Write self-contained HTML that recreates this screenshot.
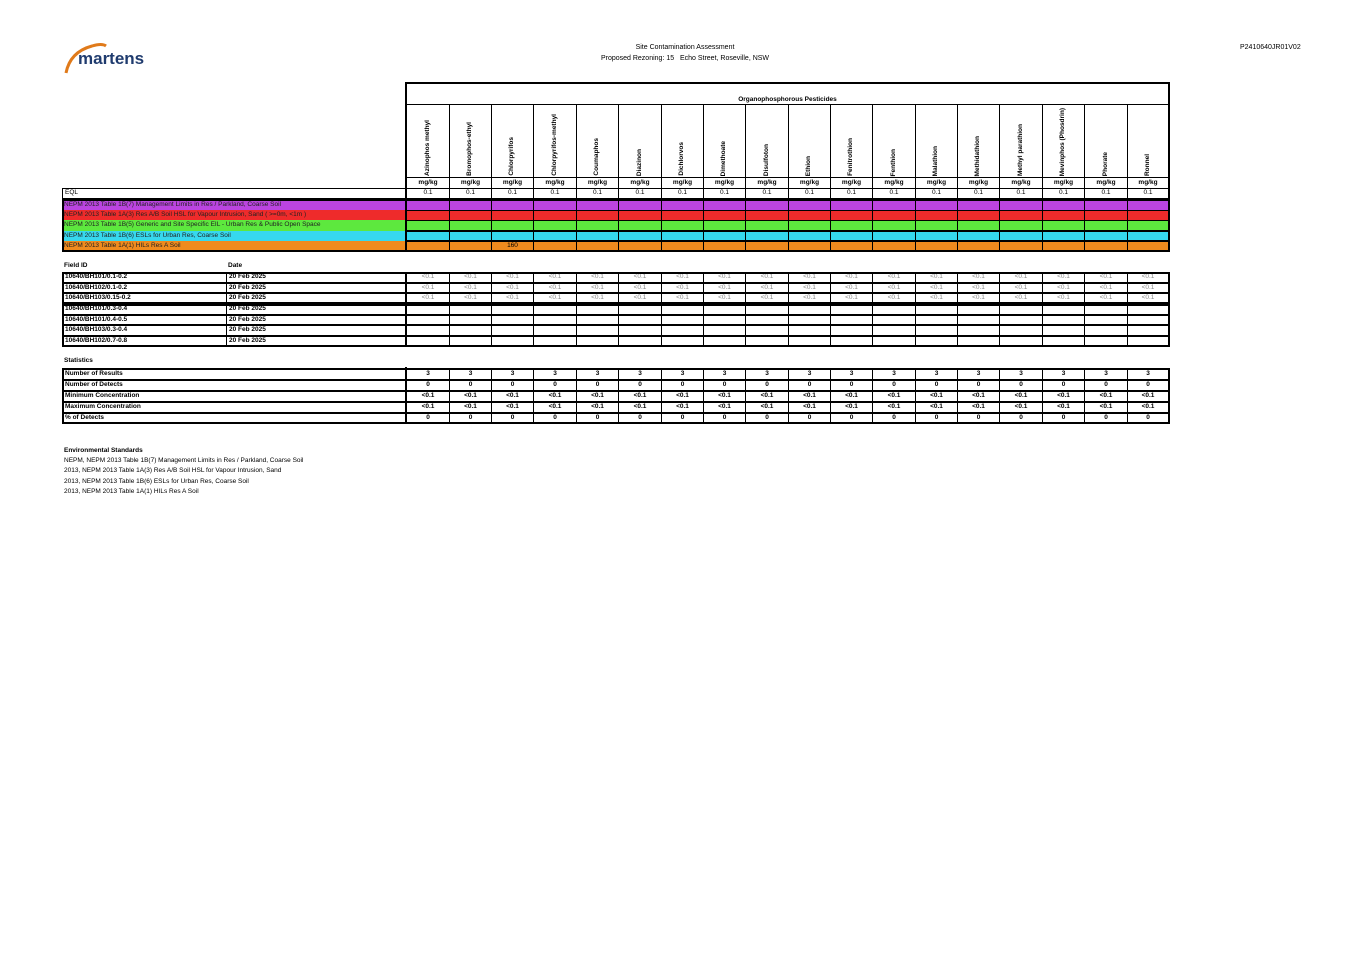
<!DOCTYPE html>
<html><head><meta charset="utf-8"><style>
body{margin:0;width:1367px;height:966px;background:#fff;position:relative;overflow:hidden;font-family:"Liberation Sans",sans-serif;}
.a{position:absolute;box-sizing:border-box;font-size:6.5px;line-height:1;white-space:nowrap;}
.c{display:flex;align-items:center;justify-content:center;}
.l{display:flex;align-items:center;padding-left:2px;}
.b{font-weight:bold;}
.v{writing-mode:vertical-rl;transform:rotate(180deg);font-weight:bold;font-size:6.5px;}
</style></head><body>
<div class="a" style="left:62px;top:40px;width:100px;height:36px">
<svg width="100" height="36"><path d="M4 33 Q8 12 30 6 Q40 3 44 6" stroke="#e07a1a" stroke-width="3" fill="none"/>
<text x="16" y="24" font-family="Liberation Sans" font-weight="bold" font-size="17" fill="#1f3b6e">martens</text></svg></div>
<div class="a" style="left:560px;top:42px;width:250px;text-align:center;font-size:7px;line-height:11px">Site Contamination Assessment<br>Proposed Rezoning: 15&nbsp;&nbsp;&nbsp;Echo Street, Roseville, NSW</div>
<div class="a" style="left:1240px;top:44px;font-size:7px">P2410640JR01V02</div>
<div id="g"></div>
<script>
var X=[406,449,491,533,576,618,661,703,745,788,830,872,915,957,999,1042,1084,1127,1168];
var N=["Azinophos methyl","Bromophos-ethyl","Chlorpyrifos","Chlorpyrifos-methyl","Coumaphos","Diazinon","Dichlorvos","Dimethoate","Disulfoton","Ethion","Fenitrothion","Fenthion","Malathion","Methidathion","Methyl parathion","Mevinphos (Phosdrin)","Phorate","Ronnel"];
var h="";
function d(x,y,w,ht,cls,st,t){h+='<div class="a '+cls+'" style="left:'+x+'px;top:'+y+'px;width:'+w+'px;height:'+ht+'px;'+st+'">'+t+'</div>';}
d(405,82,765,170,"","border:2px solid #000","");
d(405,82,765,23,"c b","border-bottom:1px solid #000;align-items:flex-end;padding-bottom:1px","Organophosphorous Pesticides");
for(var i=0;i<18;i++){var x=X[i],w=X[i+1]-X[i];
 d(x,104,w+1,74,"","border-left:1px solid #000;border-right:1px solid #000;display:flex;align-items:flex-end;justify-content:center;padding-bottom:2px",'<span class="v">'+N[i]+'</span>');
 d(x,177,w+1,12,"c b","border:1px solid #000;border-top:1.5px solid #000","mg/kg");
 d(x,188,w+1,12,"c","border:1px solid #000;border-bottom:2px solid #000","0.1");
}
d(62,188,344,12,"l","border:1px solid #000;border-bottom:2px solid #000","EQL");
var C=["#bb44e0","#ee2b2b","#5de83e","#36d8ee","#ef8b1e"];
var L=["NEPM 2013 Table 1B(7) Management Limits in Res / Parkland, Coarse Soil","NEPM 2013 Table 1A(3) Res A/B Soil HSL for Vapour Intrusion, Sand ( >=0m, &lt;1m )","NEPM 2013 Table 1B(5) Generic and Site Specific EIL - Urban Res &amp; Public Open Space","NEPM 2013 Table 1B(6) ESLs for Urban Res, Coarse Soil","NEPM 2013 Table 1A(1) HILs Res A Soil"];
for(var r=0;r<5;r++){var y=200+r*10.2;
 d(62,y,344,10.5,"l","background:"+C[r]+";color:#222",L[r]);
 for(var i=0;i<18;i++)d(X[i],y,X[i+1]-X[i]+1,10.5,"c","background:"+C[r]+";border:1px solid #000",(r==4&&i==2)?"160":"");
}
d(405,199,765,53,"","border:2px solid #000","");
d(62,199,345,53,"","border:2px solid #000;border-right:none","");
d(64,263,100,8,"b","","Field ID");d(228,263,60,8,"b","","Date");
var S=["10640/BH101/0.1-0.2","10640/BH102/0.1-0.2","10640/BH103/0.15-0.2","10640/BH101/0.3-0.4","10640/BH101/0.4-0.5","10640/BH103/0.3-0.4","10640/BH102/0.7-0.8"];
var Y=[272,282.5,293,304,314.5,325,335.5];
for(var r=0;r<7;r++){var y=Y[r];
 d(62,y,165,10.5,"l b","border:1px solid #000",S[r]);
 d(226,y,180,10.5,"l b","border:1px solid #000","20 Feb 2025");
 for(var i=0;i<18;i++)d(X[i],y,X[i+1]-X[i]+1,10.5,"c","border:1px solid #000;color:#888",r<3?"&lt;0.1":"");
}
d(62,271.5,1108,32.5,"","border:2px solid #000","");
d(62,303.5,1108,43,"","border:2px solid #000","");
d(405,271.5,2,75,"","background:#000","");
d(64,358,100,8,"b","","Statistics");
var SL=["Number of Results","Number of Detects","Minimum Concentration","Maximum Concentration","% of Detects"];
var SV=["3","0","&lt;0.1","&lt;0.1","0"];
for(var r=0;r<5;r++){var y=368+r*11;
 d(62,y,344,11.5,"l b","border:1px solid #000",SL[r]);
 for(var i=0;i<18;i++)d(X[i],y,X[i+1]-X[i]+1,11.5,"c b","border:1px solid #000",SV[r]);
 d(62,y,1108,1.5,"","background:#000","");
}
d(62,367.5,1108,56.5,"","border:2px solid #000","");
d(405,367,2,57,"","background:#000","");
h+='<div class="a" style="left:64px;top:446px;font-size:6.5px;line-height:10.2px"><b>Environmental Standards</b><br>NEPM, NEPM 2013 Table 1B(7) Management Limits in Res / Parkland, Coarse Soil<br>2013, NEPM 2013 Table 1A(3) Res A/B Soil HSL for Vapour Intrusion, Sand<br>2013, NEPM 2013 Table 1B(6) ESLs for Urban Res, Coarse Soil<br>2013, NEPM 2013 Table 1A(1) HILs Res A Soil</div>';
document.getElementById("g").innerHTML=h;
</script>
</body></html>
